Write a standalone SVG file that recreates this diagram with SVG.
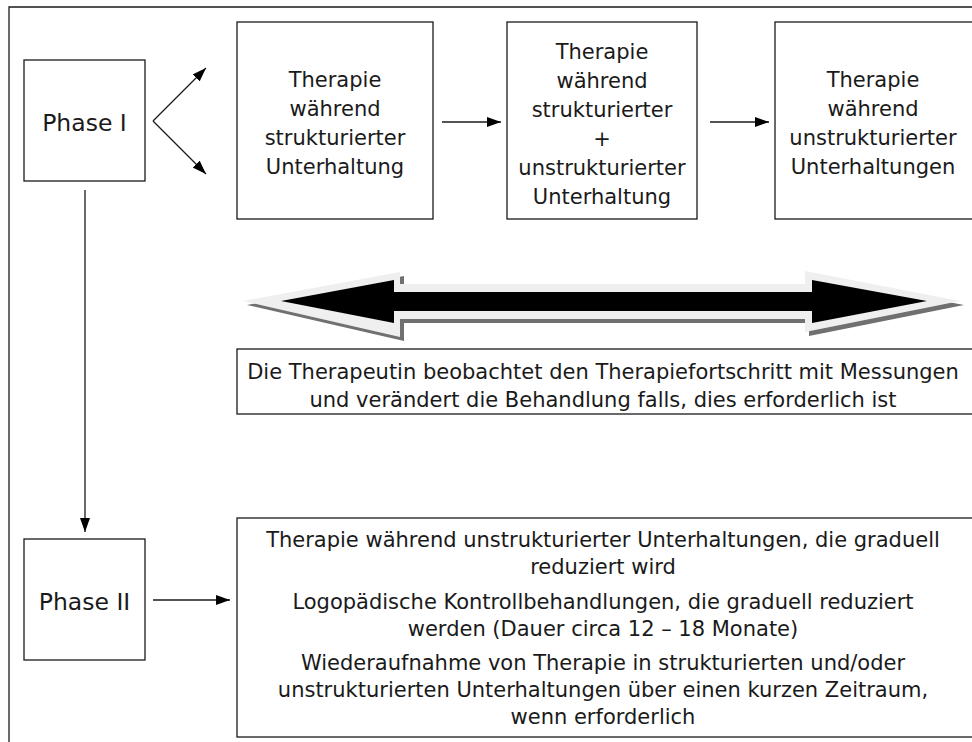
<svg xmlns="http://www.w3.org/2000/svg" width="972" height="742" viewBox="0 0 972 742">
<style>
.box{fill:#fff;stroke:#1a1a1a;stroke-width:1.3}
.t{font-family:"DejaVu Sans",sans-serif;font-size:21px;fill:#1a1a1a;text-anchor:middle}
.ph{font-family:"DejaVu Sans",sans-serif;font-size:23.5px;fill:#1a1a1a;text-anchor:middle}
.c{stroke:#1a1a1a;stroke-width:1.3;fill:none;marker-end:url(#ah)}
</style>
<defs>
<marker id="ah" viewBox="0 0 14 10" refX="14" refY="5" markerWidth="14" markerHeight="10" markerUnits="userSpaceOnUse" orient="auto">
<path d="M0,0 L14,5 L0,10 Z" fill="#000"/>
</marker>
</defs>
<rect width="972" height="742" fill="#fff"/>
<path d="M9,742 V7 H972" fill="none" stroke="#1a1a1a" stroke-width="1.3"/>

<g id="phase1"><rect class="box" x="24" y="60" width="121" height="121"/><text class="ph" x="84.5" y="131">Phase I</text></g>
<g id="phase2"><rect class="box" x="24" y="539" width="121" height="121"/><text class="ph" x="84.5" y="610">Phase II</text></g>

<g id="box1"><rect class="box" x="237" y="22" width="196" height="197"/>
<text class="t" x="335" y="87">Therapie</text><text class="t" x="335" y="116">während</text><text class="t" x="335" y="145">strukturierter</text><text class="t" x="335" y="174">Unterhaltung</text></g>

<g id="box2"><rect class="box" x="507" y="22" width="190" height="197"/>
<text class="t" x="602" y="59">Therapie</text><text class="t" x="602" y="88">während</text><text class="t" x="602" y="117">strukturierter</text><text class="t" x="602" y="146">+</text><text class="t" x="602" y="175">unstrukturierter</text><text class="t" x="602" y="204">Unterhaltung</text></g>

<g id="box3"><rect class="box" x="775" y="22" width="220" height="197"/>
<text class="t" x="873" y="87">Therapie</text><text class="t" x="873" y="116">während</text><text class="t" x="873" y="145">unstrukturierter</text><text class="t" x="873" y="174">Unterhaltungen</text></g>

<g id="bigarrow">
<polygon points="247,305 404,276 404,288 809,288 809,275 964,305 809,336 809,323 404,323 404,341" fill="#707070"/>
<polygon points="243,301 400,272 400,284 805,284 805,271 960,301 805,332 805,319 400,319 400,337" fill="#efefef"/>
<polygon points="281,301 394,280 394,292 812,292 812,280 927,301 812,323 812,311 394,311 394,323" fill="#000"/>
</g>

<g id="monitor"><rect class="box" x="237" y="349" width="760" height="65"/>
<text class="t" x="603" y="379">Die Therapeutin beobachtet den Therapiefortschritt mit Messungen</text>
<text class="t" x="603" y="407">und verändert die Behandlung falls, dies erforderlich ist</text></g>

<g id="phase2text"><rect class="box" x="237" y="518" width="760" height="219"/>
<text class="t" x="603" y="547">Therapie während unstrukturierter Unterhaltungen, die graduell</text>
<text class="t" x="603" y="574">reduziert wird</text>
<text class="t" x="603" y="609">Logopädische Kontrollbehandlungen, die graduell reduziert</text>
<text class="t" x="603" y="636">werden (Dauer circa 12 – 18 Monate)</text>
<text class="t" x="603" y="670">Wiederaufnahme von Therapie in strukturierten und/oder</text>
<text class="t" x="603" y="697">unstrukturierten Unterhaltungen über einen kurzen Zeitraum,</text>
<text class="t" x="603" y="724">wenn erforderlich</text></g>

<g id="connectors">
<line class="c" x1="153" y1="121" x2="206" y2="68"/>
<line class="c" x1="153" y1="121" x2="206" y2="174"/>
<line class="c" x1="442" y1="122" x2="501" y2="122"/>
<line class="c" x1="710" y1="122" x2="769" y2="122"/>
<line class="c" x1="85" y1="190" x2="85" y2="532"/>
<line class="c" x1="153" y1="600" x2="230" y2="600"/>
</g>
</svg>
